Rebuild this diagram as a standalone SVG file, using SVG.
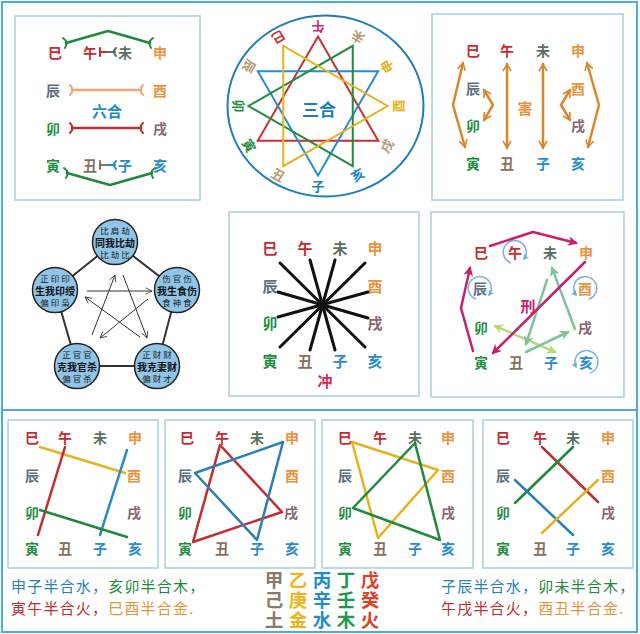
<svg xmlns="http://www.w3.org/2000/svg" width="640" height="634" viewBox="0 0 640 634">
<style>
text{font-family:"Noto Sans CJK SC","Noto Sans",sans-serif;font-weight:bold;text-anchor:middle;dominant-baseline:central}
.L{font-size:14px}
.frame{fill:none;stroke:#4aaed6;stroke-width:2}
.box{fill:none;stroke:#a9cde0;stroke-width:1.5}
.r{fill:#c62b2f}.g{fill:#5b6f63}.o{fill:#e9943f}.s{fill:#5d6f7f}.gr{fill:#1e8e3e}.m{fill:#8b6373}.b{fill:#86725f}.bl{fill:#2a8dc8}
.tan{fill:#b89c74}.yel{fill:#e6b21f}.mag{fill:#d4246e}.cb{fill:#1f86bb}
.ln{fill:none;stroke-width:2.5;stroke-linecap:round;stroke-linejoin:round}
.tri{fill:none;stroke-width:2}
.cir{fill:#8fc5e8;stroke:#222;stroke-width:1.5}
.ct{font-weight:normal;font-size:8.5px;fill:#222;letter-spacing:2px}
.cb2{font-size:10px;fill:#111}
.self{fill:none;stroke:#7ab4dc;stroke-width:1.5}
text.nt{font-size:15px;font-weight:normal;text-anchor:start;letter-spacing:1.2px}
text.tg{font-size:18.5px;writing-mode:vertical-rl;letter-spacing:1.5px}
</style>
<defs>
<marker id="ao" viewBox="0 0 10 10" refX="8" refY="5" markerWidth="4" markerHeight="4" orient="auto-start-reverse"><path d="M1,1 L8,5 L1,9" fill="none" stroke="#d9862f" stroke-width="1.6"/></marker>
<marker id="ak" viewBox="0 0 10 10" refX="9" refY="5" markerWidth="8" markerHeight="8" orient="auto"><path d="M1,1 L9,5 L1,9" fill="none" stroke="#333" stroke-width="1"/></marker>
<marker id="am" viewBox="0 0 10 10" refX="8" refY="5" markerWidth="4" markerHeight="4" orient="auto"><path d="M0,0 L10,5 L0,10 L3,5 z" fill="#c8206e"/></marker>
<marker id="ag" viewBox="0 0 10 10" refX="8" refY="5" markerWidth="4" markerHeight="4" orient="auto"><path d="M0,0 L10,5 L0,10 L3,5 z" fill="#7fc49a"/></marker>
<marker id="ay" viewBox="0 0 10 10" refX="8" refY="5" markerWidth="4" markerHeight="4" orient="auto-start-reverse"><path d="M0,0 L10,5 L0,10 L3,5 z" fill="#b9da7e"/></marker>
<marker id="ab" viewBox="0 0 10 10" refX="6" refY="5" markerWidth="5" markerHeight="5" orient="auto"><path d="M0,1 L8,5 L0,9 L2,5 z" fill="#6aaedb"/></marker>
</defs>
<rect width="640" height="634" fill="#fff"/>
<rect class="frame" x="2" y="2" width="635" height="630"/>
<line class="frame" x1="2" y1="410" x2="637" y2="410"/>

<!-- Panel 1: 六合 -->
<g id="liuhe">
<rect class="box" x="15" y="16" width="185" height="184"/>
<g class="L">
<text class="r" x="55" y="52">巳</text><text class="r" x="90" y="52">午</text><text class="g" x="125" y="52">未</text><text class="o" x="160" y="52">申</text>
<text class="s" x="53" y="90">辰</text><text class="o" x="160" y="90">酉</text>
<text class="gr" x="53" y="128">卯</text><text class="m" x="160" y="128">戌</text>
<text class="gr" x="53" y="165">寅</text><text class="b" x="90" y="165">丑</text><text class="bl" x="125" y="165">子</text><text class="bl" x="160" y="165">亥</text>
</g>
<text x="107" y="110" style="font-size:15px;fill:#1e8ac4">六合</text>
</g>
<g id="liuhe-links" class="ln">
<polyline points="66,43 108,31 150,43" stroke="#1f8a3a"/>
<path d="M63,38 Q69,42 65,48 M153,38 Q147,42 151,48" stroke="#1f8a3a" stroke-width="2"/>
<polyline points="67,173 110,185 152,173" stroke="#1f8a3a"/>
<path d="M64,168 Q70,172 66,178 M155,168 Q149,172 153,178" stroke="#1f8a3a" stroke-width="2"/>
<line x1="100" y1="52" x2="107" y2="52" stroke="#c62b2f" stroke-width="2"/>
<path d="M100,48 V56" stroke="#c62b2f" stroke-width="2"/>
<line x1="107" y1="52" x2="115" y2="52" stroke="#5b6f63" stroke-width="2"/>
<path d="M116,48 Q112,52 116,56" stroke="#5b6f63" stroke-width="2"/>
<line x1="100" y1="165" x2="107" y2="165" stroke="#86725f" stroke-width="2"/>
<path d="M100,161 V169" stroke="#86725f" stroke-width="2"/>
<line x1="107" y1="165" x2="115" y2="165" stroke="#2a8dc8" stroke-width="2"/>
<path d="M116,161 Q112,165 116,169" stroke="#2a8dc8" stroke-width="2"/>
<line x1="72" y1="90" x2="141" y2="90" stroke="#f0a676"/>
<path d="M70,85 Q75,90 70,95 M143,85 Q138,90 143,95" stroke="#f0a676" stroke-width="2"/>
<line x1="72" y1="128" x2="141" y2="128" stroke="#b93232"/>
<path d="M70,123 Q75,128 70,133 M143,123 Q138,128 143,133" stroke="#b93232" stroke-width="2"/>
</g>

<!-- Panel 2: 三合 -->
<g id="sanhe">
<ellipse cx="325.5" cy="106" rx="98" ry="90.5" fill="none" stroke="#1f7fb5" stroke-width="2"/>
<polygon class="tri" points="318,36.5 257.8,140.75 378.2,140.75" stroke="#c9302f"/>
<polygon class="tri" points="378.2,71.25 318,175.5 257.8,71.25" stroke="#2a8dc8"/>
<polygon class="tri" points="352.75,166.2 248.5,106 352.75,45.8" stroke="#1f8c3c"/>
<polygon class="tri" points="283.25,45.8 387.5,106 283.25,166.2" stroke="#e6b21f"/>
<g style="font-size:13px">
<text class="yel" transform="translate(397,106) rotate(-90)">酉</text>
<text class="tan" transform="translate(386.4,145.5) rotate(-60)">戌</text>
<text class="cb" transform="translate(357.5,174.4) rotate(-30)">亥</text>
<text class="cb" transform="translate(318,185) rotate(0)">子</text>
<text class="tan" transform="translate(278.5,174.4) rotate(30)">丑</text>
<text class="gr" transform="translate(249.6,145.5) rotate(60)">寅</text>
<text class="gr" transform="translate(239,106) rotate(90)">卯</text>
<text class="tan" transform="translate(249.6,66.5) rotate(120)">辰</text>
<text class="r" transform="translate(278.5,37.6) rotate(150)">巳</text>
<text class="mag" transform="translate(318,27) rotate(180)">午</text>
<text class="tan" transform="translate(357.5,37.6) rotate(210)">未</text>
<text class="yel" transform="translate(386.4,66.5) rotate(240)">申</text>
</g>
<text x="319" y="108" style="font-size:17px;fill:#1f7fb5">三合</text>
</g>

<!-- Panel 3: 害 -->
<g id="hai">
<rect class="box" x="432" y="14" width="191" height="186"/>
<g class="L">
<text class="r" x="473" y="50">巳</text><text class="r" x="507" y="50">午</text><text class="g" x="543" y="50">未</text><text class="o" x="578" y="50">申</text>
<text class="s" x="473" y="88">辰</text><text class="o" x="578" y="88">酉</text>
<text class="gr" x="473" y="125">卯</text><text class="m" x="578" y="125">戌</text>
<text class="gr" x="473" y="163">寅</text><text class="b" x="507" y="163">丑</text><text class="bl" x="543" y="163">子</text><text class="bl" x="578" y="163">亥</text>
</g>
<text x="525" y="107" style="font-size:15px;fill:#e9943f">害</text>
</g>
<g id="hai-links" class="ln" stroke="#d9862f" marker-start="url(#ao)" marker-end="url(#ao)">
<polyline points="463,63 453,105 465,147"/>
<polyline points="484,90 493,105 484,120"/>
<line x1="507" y1="64" x2="507" y2="148"/>
<line x1="543" y1="64" x2="543" y2="148"/>
<polyline points="570,90 561,105 570,120"/>
<polyline points="587,63 599,105 588,147"/>
</g>

<!-- Panel 4: 十神 -->
<g id="shishen-links">
<polygon points="115,242 177,290 157,366 77,366 55,290" fill="none" stroke="#333" stroke-width="2"/>
<g stroke="#333" stroke-width="1" marker-end="url(#ak)">
<line x1="87" y1="291" x2="152" y2="291"/>
<line x1="148" y1="299" x2="100" y2="338"/>
<line x1="92" y1="335" x2="115" y2="275"/>
<line x1="123" y1="275" x2="147" y2="338"/>
<line x1="140" y1="337" x2="85" y2="297"/>
</g>
</g>
<g id="bijie"><circle class="cir" cx="115" cy="242" r="22.5"/>
<text class="ct" x="116" y="230">比肩劫</text><text class="cb2" x="115" y="242">同我比劫</text><text class="ct" x="116" y="254">比劫比</text></g>
<g id="shishang"><circle class="cir" cx="177" cy="290" r="22.5"/>
<text class="ct" x="178" y="278">伤官伤</text><text class="cb2" x="177" y="290">我生食伤</text><text class="ct" x="178" y="302">食神食</text></g>
<g id="qicai"><circle class="cir" cx="157" cy="366" r="22.5"/>
<text class="ct" x="158" y="354">正财财</text><text class="cb2" x="157" y="366">我克妻财</text><text class="ct" x="158" y="378">偏财才</text></g>
<g id="guansha"><circle class="cir" cx="77" cy="366" r="22.5"/>
<text class="ct" x="78" y="354">正官官</text><text class="cb2" x="77" y="366">克我官杀</text><text class="ct" x="78" y="378">偏官杀</text></g>
<g id="yinshou"><circle class="cir" cx="55" cy="290" r="22.5"/>
<text class="ct" x="56" y="278">正印印</text><text class="cb2" x="55" y="290">生我印绶</text><text class="ct" x="56" y="302">偏印枭</text></g>

<!-- Panel 5: 冲 -->
<g id="chong">
<rect class="box" x="229" y="212" width="190" height="184"/>
<g style="font-size:15px">
<text class="r" x="270" y="247">巳</text><text class="r" x="305" y="247">午</text><text class="g" x="340" y="247">未</text><text class="o" x="375" y="247">申</text>
<text class="s" x="270" y="285">辰</text><text class="o" x="375" y="285">酉</text>
<text class="gr" x="270" y="322">卯</text><text class="m" x="375" y="322">戌</text>
<text class="gr" x="270" y="360">寅</text><text class="b" x="305" y="360">丑</text><text class="bl" x="340" y="360">子</text><text class="bl" x="375" y="360">亥</text>
</g>
<text x="325" y="380" style="font-size:15px;fill:#d42a5a">冲</text>
</g>
<g id="chong-links" stroke="#111" stroke-width="3" stroke-linecap="round">
<line x1="280" y1="263" x2="365" y2="347"/>
<line x1="310" y1="260" x2="335" y2="350"/>
<line x1="335" y1="260" x2="310" y2="350"/>
<line x1="365" y1="263" x2="280" y2="347"/>
<line x1="278" y1="292" x2="368" y2="318"/>
<line x1="368" y1="292" x2="278" y2="317"/>
</g>

<!-- Panel 6: 刑 -->
<g id="xing">
<rect class="box" x="431" y="212" width="193" height="185"/>
<g class="self" marker-end="url(#ab)">
<path d="M511,263 A11.5,11.5 0 1 1 524,259"/>
<path d="M476,299 A11.5,11.5 0 1 1 489,295"/>
<path d="M589,299 A11.5,11.5 0 1 0 576,295"/>
<path d="M590,373 A11.5,11.5 0 1 0 576,367"/>
</g>
<g class="L">
<text class="r" x="481" y="252">巳</text><text class="r" x="515" y="252">午</text><text class="g" x="550" y="252">未</text><text class="o" x="586" y="252">申</text>
<text class="s" x="480" y="288">辰</text><text class="o" x="585" y="288">酉</text>
<text class="gr" x="481" y="327">卯</text><text class="m" x="585" y="327">戌</text>
<text class="gr" x="481" y="362">寅</text><text class="b" x="516" y="362">丑</text><text class="bl" x="551" y="362">子</text><text class="bl" x="586" y="362">亥</text>
</g>
<text x="528" y="305" style="font-size:15px;fill:#c8206e">刑</text>
</g>
<g id="xing-links" class="ln">
<line x1="495" y1="326" x2="555" y2="352" stroke="#b9da7e" marker-start="url(#ay)" marker-end="url(#ay)"/>
<line x1="526" y1="352" x2="568" y2="332" stroke="#7fc49a" marker-end="url(#ag)"/>
<line x1="575" y1="329" x2="552" y2="268" stroke="#7fc49a" marker-end="url(#ag)"/>
<line x1="547" y1="280" x2="526" y2="344" stroke="#7fc49a" marker-end="url(#ag)"/>
<polyline points="473,351 461,308 470,268" stroke="#c8206e" marker-end="url(#am)"/>
<polyline points="490,246 533,232 576,243" stroke="#c8206e" marker-end="url(#am)"/>
<line x1="585" y1="262" x2="493" y2="353" stroke="#c8206e" marker-end="url(#am)"/>
</g>

<!-- Bottom panel 1 -->
<g id="b1">
<rect class="box" x="8" y="420" width="150" height="148"/>
<g class="L">
<text class="r" x="32" y="437">巳</text><text class="r" x="65" y="437">午</text><text class="g" x="100" y="437">未</text><text class="o" x="135" y="437">申</text>
<text class="s" x="32" y="475">辰</text><text class="o" x="134" y="475">酉</text>
<text class="gr" x="32" y="512">卯</text><text class="m" x="134" y="512">戌</text>
<text class="gr" x="32" y="548">寅</text><text class="b" x="65" y="548">丑</text><text class="bl" x="100" y="548">子</text><text class="bl" x="135" y="548">亥</text>
</g>
</g>
<g id="b1-links" class="ln">
<line x1="40" y1="447" x2="125" y2="473" stroke="#e6b21f"/>
<line x1="65" y1="447" x2="38" y2="535" stroke="#c62b2f"/>
<line x1="127" y1="450" x2="100" y2="535" stroke="#2a8dc8"/>
<line x1="40" y1="510" x2="127" y2="537" stroke="#1e8a3a"/>
</g>

<!-- Bottom panel 2 -->
<g id="b2">
<rect class="box" x="165" y="420" width="150" height="148"/>
<g class="L">
<text class="r" x="187" y="437">巳</text><text class="r" x="222" y="437">午</text><text class="g" x="257" y="437">未</text><text class="o" x="292" y="437">申</text>
<text class="s" x="185" y="475">辰</text><text class="o" x="292" y="475">酉</text>
<text class="gr" x="185" y="512">卯</text><text class="m" x="291" y="512">戌</text>
<text class="gr" x="185" y="548">寅</text><text class="b" x="222" y="548">丑</text><text class="bl" x="257" y="548">子</text><text class="bl" x="292" y="548">亥</text>
</g>
</g>
<g id="b2-links" class="ln">
<polygon points="220,445 282,512 193,542" stroke="#c62b2f"/>
<polygon points="283,442 195,473 257,540" stroke="#2a7fb8"/>
</g>

<!-- Bottom panel 3 -->
<g id="b3">
<rect class="box" x="322" y="420" width="151" height="148"/>
<g class="L">
<text class="r" x="345" y="437">巳</text><text class="r" x="380" y="437">午</text><text class="g" x="415" y="437">未</text><text class="o" x="448" y="437">申</text>
<text class="s" x="345" y="475">辰</text><text class="o" x="448" y="475">酉</text>
<text class="gr" x="345" y="512">卯</text><text class="m" x="448" y="512">戌</text>
<text class="gr" x="345" y="548">寅</text><text class="b" x="380" y="548">丑</text><text class="bl" x="415" y="548">子</text><text class="bl" x="448" y="548">亥</text>
</g>
</g>
<g id="b3-links" class="ln">
<polygon points="352,442 438,470 378,538" stroke="#e6b21f"/>
<polygon points="415,443 353,508 440,540" stroke="#1e8a3a"/>
</g>

<!-- Bottom panel 4 -->
<g id="b4">
<rect class="box" x="483" y="420" width="150" height="148"/>
<g class="L">
<text class="r" x="503" y="437">巳</text><text class="r" x="540" y="437">午</text><text class="g" x="573" y="437">未</text><text class="o" x="608" y="437">申</text>
<text class="s" x="503" y="475">辰</text><text class="o" x="608" y="475">酉</text>
<text class="gr" x="503" y="512">卯</text><text class="m" x="608" y="512">戌</text>
<text class="gr" x="503" y="548">寅</text><text class="b" x="540" y="548">丑</text><text class="bl" x="573" y="548">子</text><text class="bl" x="608" y="548">亥</text>
</g>
</g>
<g id="b4-links" class="ln">
<line x1="542" y1="447" x2="598" y2="502" stroke="#b93232"/>
<line x1="515" y1="503" x2="573" y2="447" stroke="#1e8a3a"/>
<line x1="515" y1="480" x2="573" y2="535" stroke="#2a7fb8"/>
<line x1="542" y1="533" x2="598" y2="480" stroke="#e6b21f"/>
</g>

<!-- Bottom texts -->
<g id="notes">
<text class="nt" x="11" y="585"><tspan fill="#2a7fb8">申子半合水，</tspan><tspan fill="#1e8a3a">亥卯半合木，</tspan></text>
<text class="nt" x="11" y="607"><tspan fill="#c62b2f">寅午半合火，</tspan><tspan fill="#e0963c">巳酉半合金.</tspan></text>
<text class="nt" x="441" y="585"><tspan fill="#2a7fb8">子辰半合水，</tspan><tspan fill="#1e8a3a">卯未半合木，</tspan></text>
<text class="nt" x="441" y="607"><tspan fill="#c62b2f">午戌半合火，</tspan><tspan fill="#e0963c">酉丑半合金.</tspan></text>
</g>
<g id="tiangan">
<text class="tg" x="274" y="601" fill="#8a7a6a">甲己土</text>
<text class="tg" x="298" y="601" fill="#f0b419">乙庚金</text>
<text class="tg" x="322" y="601" fill="#1f8ccc">丙辛水</text>
<text class="tg" x="346" y="601" fill="#1f9a4a">丁壬木</text>
<text class="tg" x="370" y="601" fill="#e0401f">戊癸火</text>
</g>
</svg>
